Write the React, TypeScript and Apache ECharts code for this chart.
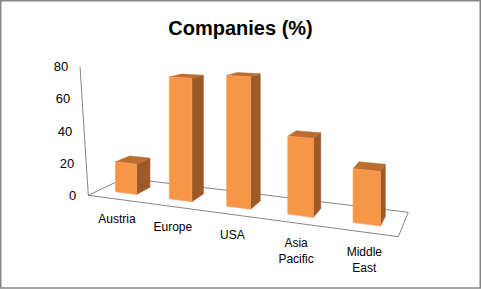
import React, { useEffect, useRef } from "react";
import * as echarts from "echarts";

// ---- data ----
const categories: string[] = ["Austria", "Europe", "USA", "Asia Pacific", "Middle East"];
const values: number[] = [19, 75, 78, 45, 30];
const yTicks: number[] = [0, 20, 40, 60, 80];
const titleText = "Companies (%)";

// ---- layout / perspective (not data) ----
const W = 481;
const H = 289;
const FL: [number, number] = [88.3, 195.3]; // floor front-left
const FR: [number, number] = [398.3, 236.7]; // floor front-right
const BR: [number, number] = [408.3, 212.3]; // floor back-right
const BL: [number, number] = [124.5, 178]; // floor back-left
const AXIS_TOP: [number, number] = [80, 66.7];
const DEPTH: [number, number] = [0.3, 0.7];
const BAR_FRAC = 0.4;
const FONT = "'Liberation Sans', Arial, sans-serif";
const LINE = "#868686";

function makeHomography(p0: number[], p1: number[], p2: number[], p3: number[]) {
  // unit square (0,0)->p0, (1,0)->p1, (1,1)->p2, (0,1)->p3
  const [x0, y0] = p0, [x1, y1] = p1, [x2, y2] = p2, [x3, y3] = p3;
  const sx = x0 - x1 + x2 - x3;
  const sy = y0 - y1 + y2 - y3;
  const dx1 = x1 - x2, dx2 = x3 - x2, dy1 = y1 - y2, dy2 = y3 - y2;
  const den = dx1 * dy2 - dx2 * dy1;
  const g = (sx * dy2 - dx2 * sy) / den;
  const h = (dx1 * sy - sx * dy1) / den;
  const a = x1 - x0 + g * x1;
  const b = x3 - x0 + h * x3;
  const d = y1 - y0 + g * y1;
  const e = y3 - y0 + h * y3;
  return (u: number, v: number): [number, number, number] => {
    const w = g * u + h * v + 1;
    return [(a * u + b * v + x0) / w, (d * u + e * v + y0) / w, w];
  };
}
const proj = makeHomography(FL, FR, BR, BL);

export default function App() {
  const ref = useRef<HTMLDivElement>(null);
  useEffect(() => {
    if (!ref.current) return;
    const chart = echarts.init(ref.current, undefined, { renderer: "svg" });
    const gridTop = AXIS_TOP[1];
    const gridBottom = H - FL[1];
    const axisLean = FL[0] - AXIS_TOP[0];
    const yMax = yTicks[yTicks.length - 1];
    const rich: Record<string, any> = {};
    yTicks.forEach((t) => {
      rich["t" + t] = {
        fontFamily: FONT,
        fontSize: 13,
        color: "#000",
        padding: [0, Math.round((axisLean * t) / yMax), 0, 0],
      };
    });

    const option: any = {
      animation: false,
      backgroundColor: "#ffffff",
      title: {
        text: titleText,
        left: "center",
        top: 13,
        textStyle: { fontFamily: FONT, fontWeight: "bold", fontSize: 20, color: "#000" },
      },
      grid: { left: FL[0], top: gridTop, bottom: gridBottom, width: 310 },
      xAxis: { type: "category", data: categories, show: false },
      yAxis: {
        type: "value",
        min: yTicks[0],
        max: yMax,
        interval: yTicks[1] - yTicks[0],
        axisLine: { show: false },
        axisTick: { show: false },
        splitLine: { show: false },
        axisLabel: {
          margin: 12,
          formatter: (v: number) => `{t${v}|${v}}`,
          rich,
        },
      },
      graphic: [
        {
          type: "rect",
          shape: { x: 0.75, y: 0.75, width: W - 1.5, height: H - 1.8 },
          style: { fill: "none", stroke: LINE, lineWidth: 1.5 },
          z: 0,
        },
        {
          type: "polygon",
          shape: { points: [FL, FR, BR, BL] },
          style: { fill: "none", stroke: LINE, lineWidth: 1 },
          z: 0,
        },
        {
          type: "line",
          shape: { x1: FL[0], y1: FL[1], x2: AXIS_TOP[0], y2: AXIS_TOP[1] },
          style: { stroke: LINE, lineWidth: 1 },
          z: 0,
        },
      ],
      series: [
        {
          type: "custom",
          clip: false,
          data: values.map((v, i) => [i, v]),
          encode: { x: 0, y: 1 },
          renderItem: (params: any, api: any) => {
            const cs = params.coordSys;
            const i = api.value(0);
            const val = api.value(1);
            const base = api.coord([i, 0]);
            const top = api.coord([i, val]);
            const band = api.size([1, 0])[0];
            const uc = (base[0] - cs.x) / cs.width;
            const hw = (band * BAR_FRAC) / 2 / cs.width;
            const hpx = base[1] - top[1];
            const P = (u: number, v: number, lift: number) => {
              const [x, y, w] = proj(u, v);
              return [x, y - (lift * hpx) / w];
            };
            const u0 = uc - hw, u1 = uc + hw, v0 = DEPTH[0], v1 = DEPTH[1];
            const fb0 = P(u0, v0, 0), fb1 = P(u1, v0, 0), bb1 = P(u1, v1, 0);
            const ft0 = P(u0, v0, 1), ft1 = P(u1, v0, 1), bt1 = P(u1, v1, 1), bt0 = P(u0, v1, 1);
            const E = proj(uc, 0);
            const name = String(categories[i]).replace(" ", "\n");
            return {
              type: "group",
              children: [
                {
                  type: "polygon",
                  shape: { points: [ft1, bt1, bb1, fb1] },
                  style: { fill: "#9E5A26", stroke: "#9E5A26", lineWidth: 0.5 },
                },
                {
                  type: "polygon",
                  shape: { points: [ft0, ft1, bt1, bt0] },
                  style: { fill: "#BC6E30", stroke: "#BC6E30", lineWidth: 0.5 },
                },
                {
                  type: "polygon",
                  shape: { points: [ft0, ft1, fb1, fb0] },
                  style: { fill: "#F79646", stroke: "#F8A060", lineWidth: 0.6 },
                },
                {
                  type: "text",
                  x: E[0] + 2,
                  y: E[1] + 12.5,
                  style: {
                    text: name,
                    fill: "#000",
                    font: `12px ${FONT}`,
                    align: "center",
                    verticalAlign: "top",
                    lineHeight: 15.7,
                  },
                },
              ],
            };
          },
        },
      ],
    };
    chart.setOption(option);
    return () => chart.dispose();
  }, []);
  return (
    <div
      ref={ref}
      style={{ position: "fixed", left: 0, top: 0, width: W, height: H, background: "#fff" }}
    />
  );
}
